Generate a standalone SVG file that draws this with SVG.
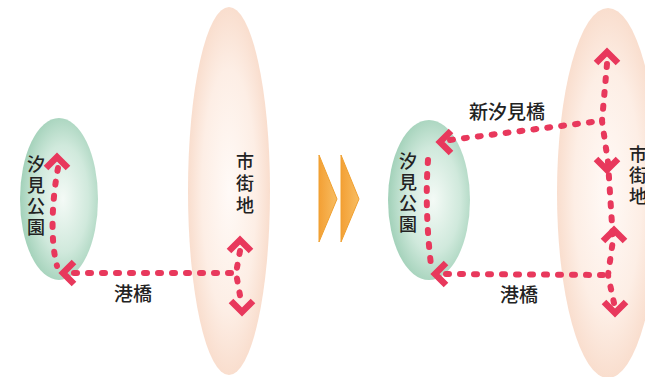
<svg xmlns="http://www.w3.org/2000/svg" width="645" height="377" viewBox="0 0 645 377">
<defs>
<radialGradient id="gGreen" cx="0.55" cy="0.5" r="0.55">
<stop offset="0" stop-color="#f4faf6"/>
<stop offset="0.6" stop-color="#d0e9dc"/>
<stop offset="1" stop-color="#a2d1b9"/>
</radialGradient>
<radialGradient id="gPeach" cx="0.5" cy="0.5" r="0.55">
<stop offset="0" stop-color="#fffaf7"/>
<stop offset="0.6" stop-color="#fdeee5"/>
<stop offset="1" stop-color="#f8d9c7"/>
</radialGradient>
<linearGradient id="gOrange" x1="0" y1="0" x2="1" y2="0">
<stop offset="0" stop-color="#f3a035"/>
<stop offset="1" stop-color="#f8bd62"/>
</linearGradient>
<path id="chev" d="M-11,11 L0,0 L11,11"/>
</defs>
<style>
.dot{fill:none;stroke:#e8385c;stroke-width:6;stroke-linecap:round;stroke-dasharray:3 11;stroke-linejoin:round}
.chev{fill:none;stroke:#e8385c;stroke-width:6.5;stroke-linejoin:miter;stroke-linecap:butt}
.lbl{font-family:"Noto Sans CJK JP","Noto Sans CJK SC",sans-serif;font-size:19px;fill:#222;font-weight:500;text-anchor:middle}
.vlbl{font-family:"Noto Sans CJK JP","Noto Sans CJK SC",sans-serif;font-size:18px;fill:#222;font-weight:500;writing-mode:vertical-rl;text-anchor:start;letter-spacing:3px}
.orange{fill:url(#gOrange);stroke:#f0a030;stroke-width:1}
</style>
<rect width="645" height="377" fill="#ffffff"/>

<g id="park-left">
<ellipse cx="59" cy="199" rx="39" ry="81" fill="url(#gGreen)"/>
<text class="vlbl" x="36" y="155">汐見公園</text>
</g>
<g id="city-left">
<ellipse cx="229" cy="191" rx="41" ry="184" fill="url(#gPeach)"/>
<text class="vlbl" x="245" y="152" style="letter-spacing:4px">市街地</text>
</g>

<g id="transition">
<polygon class="orange" points="319,155 337,199 319,242"/>
<polygon class="orange" points="341,155 359,199 341,242"/>
</g>

<g id="park-right">
<ellipse cx="429" cy="200" rx="41" ry="80" fill="url(#gGreen)"/>
<text class="vlbl" x="408" y="152">汐見公園</text>
</g>
<g id="city-right">
<ellipse cx="608" cy="193" rx="51" ry="185" fill="url(#gPeach)"/>
<text class="vlbl" x="638" y="145">市街地</text>
</g>

<g id="connectors">
<path class="dot" d="M58,168 C52,200 50,240 57,266"/>
<path class="dot" d="M74,273 L236,273"/>
<path class="dot" d="M240,251 L236,273 L241,301"/>
<use href="#chev" class="chev" transform="translate(57,157)"/>
<use href="#chev" class="chev" transform="translate(63,273) rotate(-90)"/>
<use href="#chev" class="chev" transform="translate(240,240)"/>
<use href="#chev" class="chev" transform="translate(242,312) rotate(180)"/>

<path class="dot" d="M450,140 L600,121"/>
<path class="dot" d="M428,160 C425,200 428,240 431,265"/>
<path class="dot" d="M446,274 L608,275"/>
<path class="dot" d="M607,64 L602,121 L608,162 L613,240 L608,275 L614,303"/>
<use href="#chev" class="chev" transform="translate(440,142) rotate(-90)"/>
<use href="#chev" class="chev" transform="translate(435,274) rotate(-90)"/>
<use href="#chev" class="chev" transform="translate(607,52)"/>
<use href="#chev" class="chev" transform="translate(607,170) rotate(180)"/>
<use href="#chev" class="chev" transform="translate(614,230)"/>
<use href="#chev" class="chev" transform="translate(615,313) rotate(180)"/>

<text class="lbl" x="133" y="301">港橋</text>
<text class="lbl" x="507" y="119">新汐見橋</text>
<text class="lbl" x="519" y="302">港橋</text>
</g>
</svg>
